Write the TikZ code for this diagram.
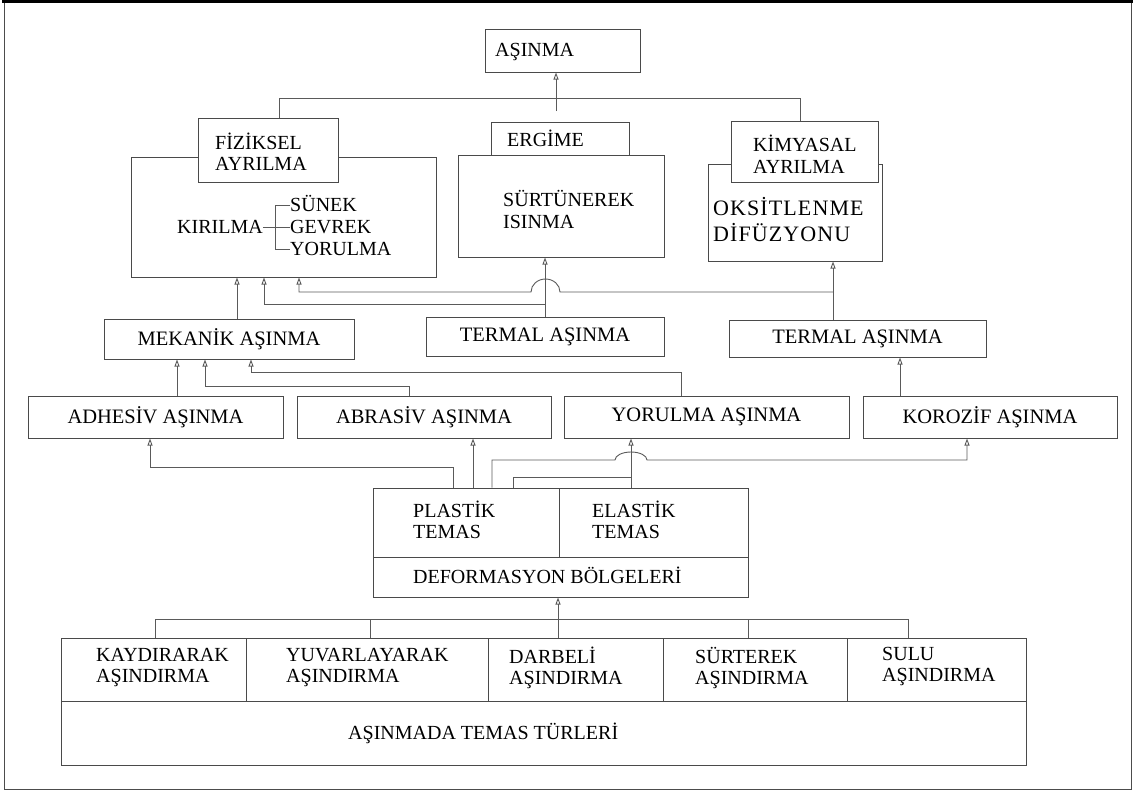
\documentclass[tikz,border=0pt]{standalone}
\usepackage{fontspec}
\setmainfont{Liberation Serif}
\usepackage{xcolor}
\usetikzlibrary{arrows.meta}
\definecolor{C4A4A4A}{HTML}{4A4A4A}
\definecolor{C5A5A5A}{HTML}{5A5A5A}

\begin{document}
\begin{tikzpicture}[inner sep=0pt,
  box/.style={draw=C4A4A4A, line width=1.0pt, fill=white, shape=rectangle, align=center, font=\fontsize{20.5}{21}\selectfont},
  lbl/.style={anchor=west, align=left, font=\fontsize{20}{21}\selectfont},
  one/.style={lbl, text height=13.5pt, text depth=0pt},
  lnk/.style={draw=C5A5A5A, line width=0.9pt},
  arr/.style={lnk, -{Triangle[open,length=7pt,width=5pt]}}]
\useasboundingbox (0pt,0pt) rectangle (1134pt,-793pt);
\path [draw=black!70, line width=1.0pt] (4pt,-1pt) rectangle (1131pt,-789pt);
\path [draw=black, line width=2.5pt] (2pt,-1.25pt) -- (1133pt,-1.25pt);

% top
\node (n0) [box, minimum width=155pt, minimum height=43pt, at={(562.5pt,-50.5pt)}] {};
\node (t0) [one, at={(495pt,-50pt)}] {AŞINMA};

% big boxes first, heads over them
\node (n2) [box, minimum width=305pt, minimum height=120pt, at={(283.5pt,-217pt)}] {};
\node (n1) [box, minimum width=140pt, minimum height=64pt, at={(268pt,-150pt)}] {};
\node (n4) [box, minimum width=206pt, minimum height=102pt, at={(561pt,-206pt)}] {};
\node (n3) [box, minimum width=138pt, minimum height=33pt, at={(560pt,-138.5pt)}] {};
\node (n6) [box, minimum width=174pt, minimum height=97pt, at={(795pt,-212.5pt)}] {};
\node (n5) [box, minimum width=147pt, minimum height=61pt, at={(804.5pt,-151.5pt)}] {};

\node (t1) [lbl, at={(215pt,-152pt)}] {FİZİKSEL\\AYRILMA};
\node (t2) [one, at={(507pt,-140pt)}] {ERGİME};
\node (t3) [lbl, font=\fontsize{20}{22}\selectfont, at={(503pt,-209pt)}] {SÜRTÜNEREK\\ISINMA};
\node (t4) [lbl, font=\fontsize{20}{22}\selectfont, at={(753pt,-154pt)}] {KİMYASAL\\AYRILMA};
\node (t5) [lbl, font=\fontsize{22}{26}\selectfont\addfontfeature{LetterSpace=5}, at={(713pt,-220pt)}] {OKSİTLENME\\DİFÜZYONU};

\node (t6) [one, at={(177pt,-227pt)}] {KIRILMA};
\node (t7) [one, at={(290pt,-205pt)}] {SÜNEK};
\node (t8) [one, at={(290pt,-227pt)}] {GEVREK};
\node (t9) [one, at={(290pt,-249pt)}] {YORULMA};

% wear kinds
\node (n7) [box, minimum width=250pt, minimum height=40pt, at={(229pt,-339pt)}] {MEKANİK AŞINMA};
\node (n8) [box, minimum width=238pt, minimum height=39pt, at={(545pt,-336.5pt)}] {TERMAL AŞINMA};
\node (n9) [box, minimum width=257pt, minimum height=37pt, at={(857.5pt,-338.5pt)}] {TERMAL AŞINMA};
\node (n10) [box, minimum width=255pt, minimum height=42pt, at={(155.5pt,-417pt)}] {ADHESİV AŞINMA};
\node (n11) [box, minimum width=254pt, minimum height=42pt, at={(424pt,-417pt)}] {ABRASİV AŞINMA};
\node (n12) [box, minimum width=285pt, minimum height=42pt, at={(706.5pt,-417pt)}] {YORULMA AŞINMA};
\node (n13) [box, minimum width=254pt, minimum height=42pt, at={(990pt,-417pt)}] {KOROZİF AŞINMA};

% contact
\node (n14) [box, minimum width=186pt, minimum height=69pt, at={(466pt,-522.5pt)}] {};
\node (n15) [box, minimum width=189pt, minimum height=69pt, at={(653.5pt,-522.5pt)}] {};
\node (n16) [box, minimum width=375pt, minimum height=40pt, at={(560.5pt,-577pt)}] {};
\node (t10) [lbl, at={(413pt,-520pt)}] {PLASTİK\\TEMAS};
\node (t11) [lbl, at={(592pt,-520pt)}] {ELASTİK\\TEMAS};
\node (t12) [one, at={(413pt,-577pt)}] {DEFORMASYON BÖLGELERİ};

% bottom table
\node (n17) [box, minimum width=185pt, minimum height=63pt, at={(153.5pt,-669.5pt)}] {};
\node (n18) [box, minimum width=242pt, minimum height=63pt, at={(367pt,-669.5pt)}] {};
\node (n19) [box, minimum width=175pt, minimum height=63pt, at={(575.5pt,-669.5pt)}] {};
\node (n20) [box, minimum width=184pt, minimum height=63pt, at={(755pt,-669.5pt)}] {};
\node (n21) [box, minimum width=179pt, minimum height=63pt, at={(936.5pt,-669.5pt)}] {};
\node (n22) [box, minimum width=965pt, minimum height=64pt, at={(543.5pt,-733pt)}] {};
\node (t13) [lbl, at={(96pt,-668pt)}] {KAYDIRARAK\\AŞINDIRMA};
\node (t14) [lbl, at={(286pt,-668pt)}] {YUVARLAYARAK\\AŞINDIRMA};
\node (t15) [lbl, at={(509pt,-668pt)}] {DARBELİ\\AŞINDIRMA};
\node (t16) [lbl, at={(695pt,-668pt)}] {SÜRTEREK\\AŞINDIRMA};
\node (t17) [lbl, at={(882pt,-666pt)}] {SULU\\AŞINDIRMA};
\node (t18) [one, at={(348pt,-733pt)}] {AŞINMADA TEMAS TÜRLERİ};

% links
\coordinate (c0) at (556pt,-111pt);
\path [arr] (c0) -- (c0 |- n0.south);
\path [lnk] (279pt,0 |- n1.north) -- (279pt,-98pt) -- (800pt,-98pt) -- (800pt,0 |- n5.north);

\path [lnk] (t6.east) -- (t8.west);
\path [lnk] (t7.west) -- (275pt,0 |- t7.west) -- (275pt,0 |- t9.west) -- (t9.west);

\path [arr] (237pt,0 |- n7.north) -- (237pt,0 |- n2.south);
\path [arr] (545pt,0 |- n8.north) -- (545pt,0 |- n4.south);
\path [arr] (545pt,-304pt) -- (264pt,-304pt) -- (264pt,0 |- n2.south);
\path [arr] (833pt,0 |- n9.north) -- (833pt,0 |- n6.south);
\path [arr] (833pt,-292pt) -- (560pt,-292pt) arc[start angle=0, end angle=180, x radius=14.5pt, y radius=13pt] -- (299pt,-292pt) -- (299pt,0 |- n2.south);

\path [arr] (177pt,0 |- n10.north) -- (177pt,0 |- n7.south);
\path [arr] (409pt,0 |- n11.north) -- (409pt,-386pt) -- (205pt,-386pt) -- (205pt,0 |- n7.south);
\path [arr] (681pt,0 |- n12.north) -- (681pt,-372pt) -- (251pt,-372pt) -- (251pt,0 |- n7.south);
\path [arr] (900pt,0 |- n13.north) -- (900pt,0 |- n9.south);

\path [arr] (453pt,0 |- n14.north) -- (453pt,-467pt) -- (150pt,-467pt) -- (150pt,0 |- n10.south);
\path [arr] (473pt,0 |- n14.north) -- (473pt,0 |- n11.south);
\path [arr] (492pt,0 |- n14.north) -- (492pt,-460pt) -- (615pt,-460pt) arc[start angle=180, end angle=0, x radius=16pt, y radius=8pt] -- (967pt,-460pt) -- (967pt,0 |- n13.south);
\path [arr] (631pt,0 |- n15.north) -- (631pt,0 |- n12.south);
\path [lnk] (513pt,0 |- n14.north) -- (513pt,-477pt) -- (631pt,-477pt);

\path [lnk] (155pt,0 |- n17.north) -- (155pt,-619pt) -- (908pt,-619pt) -- (908pt,0 |- n21.north);
\path [lnk] (370pt,0 |- n18.north) -- (370pt,-619pt);
\path [lnk] (748pt,0 |- n20.north) -- (748pt,-619pt);
\path [arr] (558pt,0 |- n19.north) -- (558pt,0 |- n16.south);
\end{tikzpicture}
\end{document}
